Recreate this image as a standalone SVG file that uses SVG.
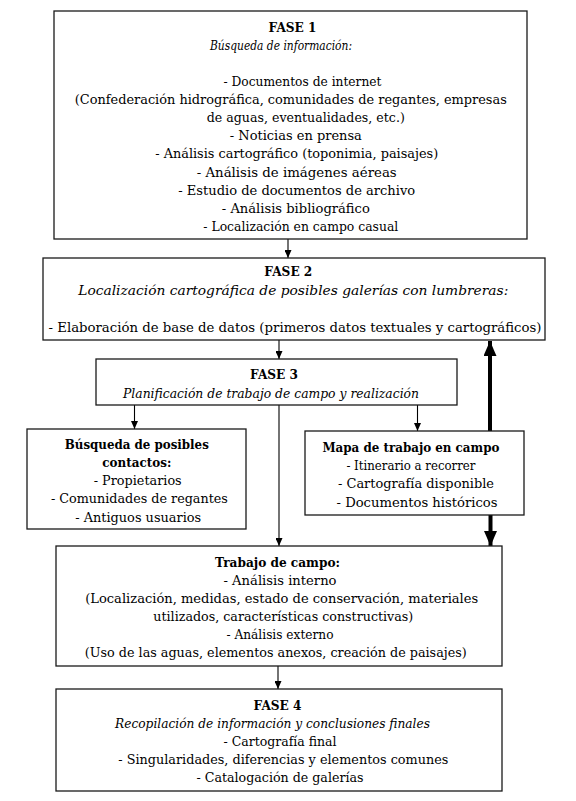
<svg xmlns="http://www.w3.org/2000/svg" width="576" height="801" viewBox="0 0 576 801">
<defs>
<style>
.box{fill:#fff;stroke:#1a1a1a;stroke-width:1.3}
text{font-family:'DejaVu Serif','Liberation Serif',serif;font-size:13.5px;fill:#000;text-anchor:middle}
.b{font-weight:bold}
.i{font-style:italic}
.c{stroke:#000;stroke-width:1.1;fill:none}
.t{stroke:#000;stroke-width:4;fill:none}
</style>
<marker id="ah" viewBox="0 0 8 7" refX="8" refY="3.5" markerWidth="8" markerHeight="7" markerUnits="userSpaceOnUse" orient="auto"><path d="M0,0 L8,3.5 L0,7 z" fill="#000"/></marker>
<marker id="ahb" viewBox="0 0 15 13" refX="15" refY="6.5" markerWidth="15" markerHeight="13" markerUnits="userSpaceOnUse" orient="auto"><path d="M0,0 L15,6.5 L0,13 z" fill="#000"/></marker>
</defs>
<rect width="576" height="801" fill="#fff"/>
<g id="connectors">
<line class="c" x1="288" y1="239" x2="288" y2="258" marker-end="url(#ah)"/>
<line class="c" x1="279" y1="340" x2="279" y2="359" marker-end="url(#ah)"/>
<line class="c" x1="134.5" y1="405" x2="134.5" y2="429" marker-end="url(#ah)"/>
<line class="c" x1="279" y1="405" x2="279" y2="546" marker-end="url(#ah)"/>
<line class="c" x1="417.5" y1="405" x2="417.5" y2="431" marker-end="url(#ah)"/>
<line class="c" x1="278" y1="666" x2="278" y2="689" marker-end="url(#ah)"/>
<line class="t" x1="490" y1="431" x2="490" y2="341" marker-end="url(#ahb)"/>
<line class="t" x1="490.5" y1="515" x2="490.5" y2="546" marker-end="url(#ahb)"/>
</g>
<g id="fase1">
<rect class="box" x="54" y="11" width="473" height="228"/>
<text class="b" x="292.5" y="31.5" textLength="48" lengthAdjust="spacingAndGlyphs">FASE 1</text>
<text class="i" x="281" y="50" textLength="142" lengthAdjust="spacingAndGlyphs">Búsqueda de información:</text>
<text x="302.5" y="85.7" textLength="158" lengthAdjust="spacingAndGlyphs">- Documentos de internet</text>
<text x="290.8" y="103.7" textLength="432" lengthAdjust="spacingAndGlyphs">(Confederación hidrográfica, comunidades de regantes, empresas</text>
<text x="305.8" y="121.9" textLength="198" lengthAdjust="spacingAndGlyphs">de aguas, eventualidades, etc.)</text>
<text x="295.8" y="140.1" textLength="132" lengthAdjust="spacingAndGlyphs">- Noticias en prensa</text>
<text x="296.7" y="158.4" textLength="283" lengthAdjust="spacingAndGlyphs">- Análisis cartográfico (toponimia, paisajes)</text>
<text x="296.7" y="176.7" textLength="200" lengthAdjust="spacingAndGlyphs">- Análisis de imágenes aéreas</text>
<text x="296.7" y="195" textLength="237" lengthAdjust="spacingAndGlyphs">- Estudio de documentos de archivo</text>
<text x="295.8" y="213.3" textLength="148" lengthAdjust="spacingAndGlyphs">- Análisis bibliográfico</text>
<text x="300.8" y="231.3" textLength="195" lengthAdjust="spacingAndGlyphs">- Localización en campo casual</text>
</g>
<g id="fase2">
<rect class="box" x="43" y="258" width="502" height="82"/>
<text class="b" x="288.3" y="276" textLength="48" lengthAdjust="spacingAndGlyphs">FASE 2</text>
<text class="i" x="293.3" y="295" textLength="430" lengthAdjust="spacingAndGlyphs">Localización cartográfica de posibles galerías con lumbreras:</text>
<text x="295" y="331.7" textLength="493" lengthAdjust="spacingAndGlyphs">- Elaboración de base de datos (primeros datos textuales y cartográficos)</text>
</g>
<g id="fase3">
<rect class="box" x="96" y="359" width="361" height="46"/>
<text class="b" x="274" y="379.3" textLength="48" lengthAdjust="spacingAndGlyphs">FASE 3</text>
<text class="i" x="271" y="397.5" textLength="296" lengthAdjust="spacingAndGlyphs">Planificación de trabajo de campo y realización</text>
</g>
<g id="contactos">
<rect class="box" x="27" y="429" width="219" height="100"/>
<text class="b" x="136.8" y="448.5" textLength="144" lengthAdjust="spacingAndGlyphs">Búsqueda de posibles</text>
<text class="b" x="136.8" y="466.5" textLength="69" lengthAdjust="spacingAndGlyphs">contactos:</text>
<text x="137.7" y="485" textLength="88" lengthAdjust="spacingAndGlyphs">- Propietarios</text>
<text x="139.4" y="503.3" textLength="177" lengthAdjust="spacingAndGlyphs">- Comunidades de regantes</text>
<text x="138.2" y="521.5" textLength="126" lengthAdjust="spacingAndGlyphs">- Antiguos usuarios</text>
</g>
<g id="mapa">
<rect class="box" x="305" y="431" width="219" height="84"/>
<text class="b" x="410.9" y="451.5" textLength="177" lengthAdjust="spacingAndGlyphs">Mapa de trabajo en campo</text>
<text x="410.9" y="470" textLength="129" lengthAdjust="spacingAndGlyphs">- Itinerario a recorrer</text>
<text x="416" y="488.3" textLength="156" lengthAdjust="spacingAndGlyphs">- Cartografía disponible</text>
<text x="417" y="506.5" textLength="161" lengthAdjust="spacingAndGlyphs">- Documentos históricos</text>
</g>
<g id="trabajo">
<rect class="box" x="56" y="546" width="446" height="120"/>
<text class="b" x="277.5" y="566.5" textLength="125" lengthAdjust="spacingAndGlyphs">Trabajo de campo:</text>
<text x="280" y="584.5" textLength="113" lengthAdjust="spacingAndGlyphs">- Análisis interno</text>
<text x="281.7" y="602.7" textLength="393" lengthAdjust="spacingAndGlyphs">(Localización, medidas, estado de conservación, materiales</text>
<text x="283.3" y="620.8" textLength="260" lengthAdjust="spacingAndGlyphs">utilizados, características constructivas)</text>
<text x="280" y="639" textLength="107" lengthAdjust="spacingAndGlyphs">- Análisis externo</text>
<text x="275.8" y="657.2" textLength="382" lengthAdjust="spacingAndGlyphs">(Uso de las aguas, elementos anexos, creación de paisajes)</text>
</g>
<g id="fase4">
<rect class="box" x="56" y="689" width="446" height="102"/>
<text class="b" x="277.5" y="710" textLength="48" lengthAdjust="spacingAndGlyphs">FASE 4</text>
<text class="i" x="272.5" y="728.3" textLength="315" lengthAdjust="spacingAndGlyphs">Recopilación de información y conclusiones finales</text>
<text x="280" y="746.2" textLength="113" lengthAdjust="spacingAndGlyphs">- Cartografía final</text>
<text x="283.3" y="764.2" textLength="330" lengthAdjust="spacingAndGlyphs">- Singularidades, diferencias y elementos comunes</text>
<text x="280" y="782" textLength="167" lengthAdjust="spacingAndGlyphs">- Catalogación de galerías</text>
</g>
</svg>
